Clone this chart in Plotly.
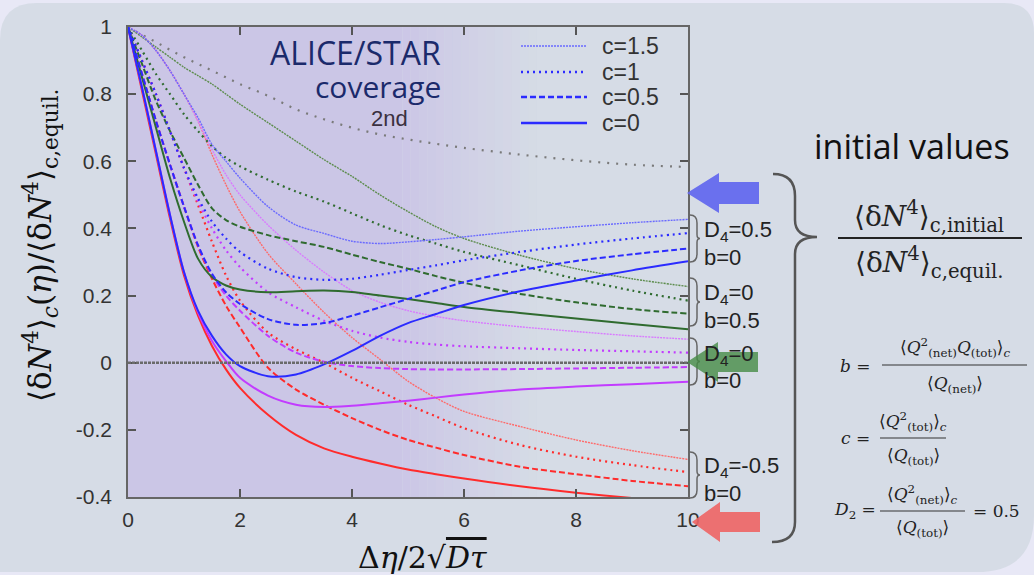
import plotly.graph_objects as go

# ---------------- data ----------------
x = [0, 0.25, 0.5, 0.75, 1, 1.25, 1.5, 1.75, 2, 2.5, 3, 3.5, 4, 4.5, 5, 5.5, 6, 7, 8, 9, 10]

# D4=-0.5, b=0 (red)
red_c15 = [1, .975, .93, .87, .80, .72, .62, .53, .45, .325, .235, .15, .075, .01, -.055, -.105, -.145, -.19, -.23, -.262, -.288]
red_c1 = [1, .90, .80, .69, .58, .47, .36, .26, .185, .09, .04, .0, -.045, -.085, -.125, -.16, -.195, -.245, -.28, -.305, -.326]
red_c05 = [1, .86, .72, .59, .465, .345, .25, .17, .105, -.015, -.08, -.125, -.165, -.20, -.23, -.253, -.275, -.31, -.332, -.352, -.368]
red_c0 = [1, .81, .62, .43, .26, .14, .05, -.02, -.075, -.155, -.215, -.255, -.28, -.30, -.318, -.332, -.345, -.368, -.387, -.403, -.418]

# D4=0, b=0 (magenta)
mag_c15 = [1, .975, .93, .87, .80, .72, .635, .56, .50, .41, .335, .27, .215, .18, .155, .138, .125, .107, .093, .08, .07]
mag_c1 = [1, .90, .80, .69, .58, .48, .40, .335, .285, .21, .165, .125, .095, .075, .062, .054, .049, .043, .038, .034, .03]
mag_c05 = [1, .86, .72, .59, .465, .35, .26, .20, .155, .08, .03, .003, -.01, -.016, -.019, -.02, -.02, -.019, -.017, -.015, -.013]
mag_c0 = [1, .82, .63, .44, .27, .15, .065, .005, -.045, -.098, -.125, -.132, -.128, -.121, -.113, -.104, -.095, -.08, -.071, -.064, -.057]

# D4=0.5, b=0 (blue)
blue_c15 = [1, .975, .93, .87, .80, .73, .65, .60, .55, .465, .41, .385, .362, .355, .36, .367, .375, .392, .405, .417, .427]
blue_c1 = [1, .90, .80, .69, .58, .49, .42, .37, .33, .28, .255, .247, .25, .262, .276, .29, .305, .33, .352, .37, .386]
blue_c05 = [1, .86, .72, .59, .465, .35, .265, .21, .175, .13, .113, .118, .14, .165, .19, .215, .24, .275, .303, .323, .34]
blue_c0 = [1, .82, .63, .44, .27, .155, .08, .025, -.01, -.04, -.035, -.005, .035, .08, .118, .145, .172, .213, .245, .275, .302]

# D4=0, b=0.5 (green)
green_c15 = [1, .97, .94, .91, .88, .855, .83, .80, .77, .715, .66, .605, .555, .50, .45, .405, .37, .32, .28, .25, .227]
green_c1 = [1, .93, .86, .80, .74, .69, .645, .61, .585, .545, .51, .48, .445, .41, .38, .355, .33, .29, .25, .215, .185]
green_c05 = [1, .89, .78, .69, .61, .53, .46, .425, .405, .38, .362, .345, .322, .30, .28, .258, .238, .205, .18, .16, .146]
green_c0 = [1, .85, .70, .55, .42, .31, .255, .23, .218, .21, .213, .215, .211, .20, .19, .178, .166, .148, .132, .115, .10]

# 2nd-order cumulant reference (gray)
second = [1, .977, .955, .932, .91, .89, .87, .85, .83, .795, .755, .725, .70, .68, .665, .652, .64, .62, .603, .59, .583]

c_labels = ["c=1.5", "c=1", "c=0.5", "c=0"]
ytick_vals = [-0.4, -0.2, 0, 0.2, 0.4, 0.6, 0.8, 1]
ytick_text = ["-0.4", "-0.2", "0", "0.2", "0.4", "0.6", "0.8", "1"]
xtick_vals = [0, 2, 4, 6, 8, 10]
xtick_text = ["0", "2", "4", "6", "8", "10"]

# ---------------- styles ----------------
RED, MAG, BLUE, GREEN = "#ff2b2b", "#c23cff", "#2b2bff", "#2f6b2f"
THIN = {RED: "#ff6a6a", MAG: "#d97aff", BLUE: "#6a6aff", GREEN: "#5c8c4c"}
styles = {  # c-value -> (width, dash)
    "c=1.5": (1.4, "2px,1px"),
    "c=1": (2.2, "2px,4px"),
    "c=0.5": (2.0, "6px,3px"),
    "c=0": (2.0, "solid"),
}

groups = [
    (RED, [red_c15, red_c1, red_c05, red_c0]),
    (MAG, [mag_c15, mag_c1, mag_c05, mag_c0]),
    (GREEN, [green_c15, green_c1, green_c05, green_c0]),
    (BLUE, [blue_c15, blue_c1, blue_c05, blue_c0]),
]

fig = go.Figure()

fig.add_trace(go.Scatter(x=x, y=second, mode="lines", line=dict(color="#7a7a7a", width=2.2, dash="2px,7px", shape="spline"),
                         showlegend=False, hoverinfo="skip"))

for color, series in groups:
    for lab, ys in zip(c_labels, series):
        w, d = styles[lab]
        col = THIN[color] if lab == "c=1.5" else color
        fig.add_trace(go.Scatter(x=x, y=ys, mode="lines", name=lab,
                                 line=dict(color=col, width=w, dash=d, shape="spline", smoothing=0.8),
                                 showlegend=False, hoverinfo="skip"))

# ---------------- geometry helpers (pixel -> paper) ----------------
L, R, T, B = 128, 688, 27, 497
def PX(xp):
    return (xp - L) / (R - L)
def PY(yp):
    return (B - yp) / (B - T)
def P(xp, yp):
    return f"{PX(xp):.5f},{PY(yp):.5f}"

shapes = []
# slide panel (rounded)
panel = ("M " + P(0, 40) + " Q " + P(0, 3) + " " + P(37, 3) + " L " + P(1004, 3) + " Q " + P(1034, 3) + " " + P(1034, 33) +
         " L " + P(1034, 515) + " Q " + P(1034, 572) + " " + P(977, 572) + " L " + P(0, 572) + " Z")
shapes.append(dict(type="path", path=panel, xref="paper", yref="paper", fillcolor="#d6dce6", line=dict(width=0), layer="below"))

# ALICE/STAR coverage shading with fade
PURPLE = (203, 198, 230)
shapes.append(dict(type="rect", xref="x", yref="paper", x0=0, x1=4.9, y0=0, y1=1,
                   fillcolor=f"rgb{PURPLE}", line=dict(width=0), layer="below"))
nsteps = 16
for i in range(nsteps):
    a = 1 - (i + 0.5) / nsteps
    x0 = 4.9 + i * (2.4 / nsteps)
    shapes.append(dict(type="rect", xref="x", yref="paper", x0=x0, x1=x0 + 2.4 / nsteps, y0=0, y1=1,
                       fillcolor=f"rgba({PURPLE[0]},{PURPLE[1]},{PURPLE[2]},{a:.3f})", line=dict(width=0), layer="below"))

# zero reference line
shapes.append(dict(type="line", xref="paper", yref="y", x0=0, x1=1, y0=0, y1=0,
                   line=dict(color="#6a6a6a", width=2.4, dash="3px,1px"), layer="above"))

# legend samples
leg_y = [46, 72, 97, 123]
for lab, yy in zip(c_labels, leg_y):
    w, d = styles[lab]
    col = THIN[BLUE] if lab == "c=1.5" else BLUE
    shapes.append(dict(type="line", xref="paper", yref="paper", x0=PX(521), x1=PX(587), y0=PY(yy), y1=PY(yy),
                       line=dict(color=col, width=w + 0.3, dash=d)))

# small braces at right edge
def small_brace(y0, y1, xl=690, xr=697):
    ym = (y0 + y1) / 2
    return ("M " + P(xl, y0) + " Q " + P(xr, y0) + " " + P(xr, y0 + 8) + " L " + P(xr, ym - 4) +
            " Q " + P(xr, ym) + " " + P(xr + 3, ym) + " Q " + P(xr, ym) + " " + P(xr, ym + 4) +
            " L " + P(xr, y1 - 8) + " Q " + P(xr, y1) + " " + P(xl, y1))
for (a, b) in [(215, 262), (278, 326), (338, 385), (452, 498)]:
    shapes.append(dict(type="path", path=small_brace(a, b), xref="paper", yref="paper", line=dict(color="#666", width=1.5)))

# big brace
big = ("M " + P(773, 174) + " Q " + P(795, 174) + " " + P(795, 196) + " L " + P(795, 220) + " Q " + P(795, 237) + " " + P(817, 237) +
       " Q " + P(795, 237) + " " + P(795, 254) + " L " + P(795, 522) + " Q " + P(795, 542) + " " + P(772, 542))
shapes.append(dict(type="path", path=big, xref="paper", yref="paper", line=dict(color="#555", width=2.5)))

# fraction bars
def hline(x0, x1, y, w=1.2, col="#333"):
    return dict(type="line", xref="paper", yref="paper", x0=PX(x0), x1=PX(x1), y0=PY(y), y1=PY(y), line=dict(color=col, width=w))
shapes.append(hline(838, 1022, 238, 1.8, "#222"))
shapes.append(hline(882, 1027, 365))
shapes.append(hline(880, 946, 438))
shapes.append(hline(880, 965, 511))

# arrows
def arrow(tip_x, tip_y, base_x, head_h, body_h, end_x):
    pts = [(tip_x, tip_y), (base_x, tip_y - head_h), (base_x, tip_y - body_h), (end_x, tip_y - body_h),
           (end_x, tip_y + body_h), (base_x, tip_y + body_h), (base_x, tip_y + head_h)]
    return "M " + " L ".join(P(a, b) for a, b in pts) + " Z"
shapes.append(dict(type="path", path=arrow(687, 193, 719, 20, 11, 759), xref="paper", yref="paper",
                   fillcolor="rgba(100,105,238,0.95)", line=dict(width=0)))
shapes.append(dict(type="path", path=arrow(687, 362, 718, 20, 10, 758), xref="paper", yref="paper",
                   fillcolor="rgba(70,140,70,0.8)", line=dict(width=0)))
shapes.append(dict(type="path", path=arrow(692, 522, 720, 20, 10, 760), xref="paper", yref="paper",
                   fillcolor="rgba(238,100,100,0.9)", line=dict(width=0)))

# ---------------- annotations ----------------
ann = []
def A(text, xp, yp, size, color="#222", family="Liberation Sans", xanchor="center", yanchor="middle", **kw):
    ann.append(dict(text=text, x=PX(xp), y=PY(yp), xref="paper", yref="paper", showarrow=False,
                    font=dict(size=size, color=color, family=family), xanchor=xanchor, yanchor=yanchor, **kw))

SERIF = "DejaVu Serif"
# legend text
for lab, yy in zip(c_labels, leg_y):
    A(lab, 600, yy, 23, "#333", xanchor="left")

A("ALICE/STAR", 443, 53, 32, "#1b2a6b", "Open Sans", xanchor="right")
A("coverage", 443, 86, 30, "#1b2a6b", "Open Sans", xanchor="right")
A("2nd", 389, 118, 22, "#3a3040")

# right labels
for t, yy in [("D<sub>4</sub>=0.5", 231), ("b=0", 257), ("D<sub>4</sub>=0", 294), ("b=0.5", 320),
              ("D<sub>4</sub>=0", 355), ("b=0", 380), ("D<sub>4</sub>=-0.5", 467), ("b=0", 493)]:
    A(t, 702, yy, 22, "#222", xanchor="left")

A("initial values", 912, 146, 34, "#111", "Open Sans")
A("⟨δ<i>N</i><sup>4</sup>⟩<sub>c,initial</sub>", 929, 216, 28, "#222", SERIF)
A("⟨δ<i>N</i><sup>4</sup>⟩<sub>c,equil.</sub>", 929, 262, 28, "#222", SERIF)

FS = 17
A("<i>b</i> =", 855, 366, FS, "#222", SERIF)
A("⟨<i>Q</i><sup>2</sup><sub>(net)</sub><i>Q</i><sub>(tot)</sub>⟩<sub><i>c</i></sub>", 955, 348, FS, "#222", SERIF)
A("⟨<i>Q</i><sub>(net)</sub>⟩", 955, 384, FS, "#222", SERIF)
A("<i>c</i> =", 855, 438, FS, "#222", SERIF)
A("⟨<i>Q</i><sup>2</sup><sub>(tot)</sub>⟩<sub><i>c</i></sub>", 913, 421, FS, "#222", SERIF)
A("⟨<i>Q</i><sub>(tot)</sub>⟩", 913, 456, FS, "#222", SERIF)
A("<i>D</i><sub>2</sub> =", 855, 511, FS, "#222", SERIF)
A("⟨<i>Q</i><sup>2</sup><sub>(net)</sub>⟩<sub><i>c</i></sub>", 922, 494, FS, "#222", SERIF)
A("⟨<i>Q</i><sub>(tot)</sub>⟩", 922, 528, FS, "#222", SERIF)
A("= 0.5", 996, 511, FS, "#222", SERIF)

# axis titles
A("⟨δ<i>N</i><sup>4</sup>⟩<sub><i>c</i></sub>(<i>η</i>)/⟨δ<i>N</i><sup>4</sup>⟩<sub>c,equil.</sub>", 40, 245, 31, "#111", SERIF, textangle=-90)
A("Δ<i>η</i>/2√<span style='text-decoration:overline'><i>Dτ</i></span>", 422, 557, 30, "#111", SERIF)

axis_common = dict(ticks="inside", ticklen=8, tickwidth=1.5, tickcolor="#555", showline=True, linecolor="#666",
                   linewidth=1.5, mirror="ticks", showgrid=False, zeroline=False,
                   tickfont=dict(family="Liberation Sans", size=21, color="#333"))
fig.update_layout(
    width=1034, height=575,
    margin=dict(l=L, r=1034 - R, t=T, b=575 - B),
    paper_bgcolor="#e8e8f6", plot_bgcolor="rgba(0,0,0,0)",
    showlegend=False,
    shapes=shapes, annotations=ann,
    xaxis=dict(range=[0, 10], tickvals=xtick_vals, ticktext=xtick_text, ticklabelstandoff=3, **axis_common),
    yaxis=dict(range=[-0.4, 1], tickvals=ytick_vals, ticktext=ytick_text, ticklabelstandoff=10, **axis_common),
)

fig.write_html("out.html")
